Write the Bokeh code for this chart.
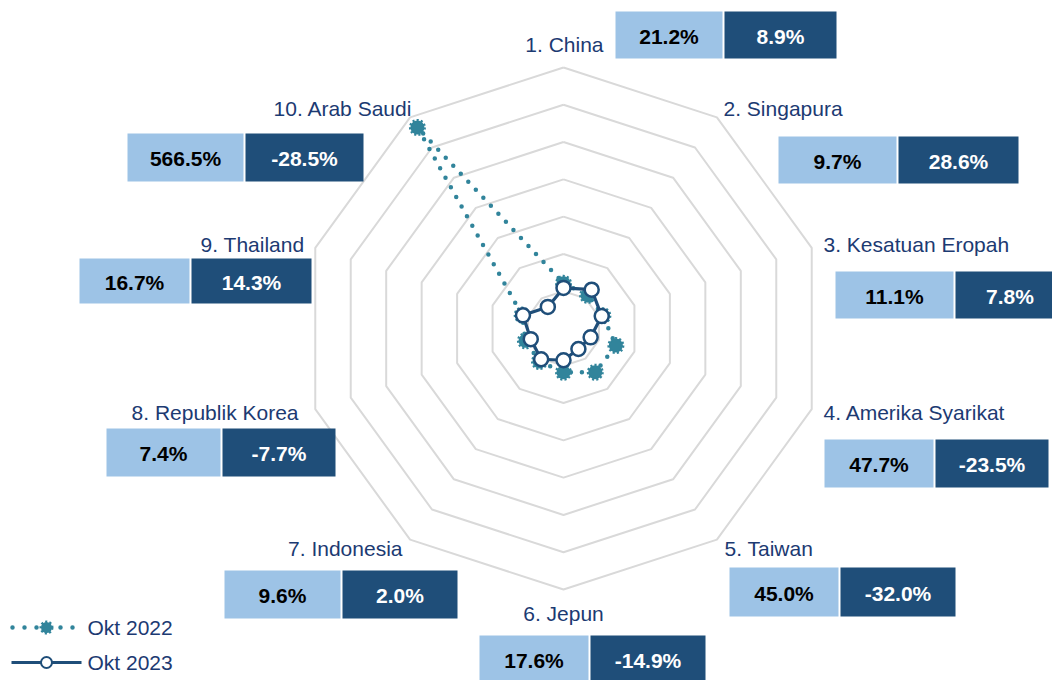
import math
from bokeh.plotting import figure
from bokeh.models import Range1d
from bokeh.embed import file_html
from bokeh.resources import INLINE
from bokeh.core.properties import value

# ---------------- data ----------------
categories = ["1. China", "2. Singapura", "3. Kesatuan Eropah", "4. Amerika Syarikat",
              "5. Taiwan", "6. Jepun", "7. Indonesia", "8. Republik Korea",
              "9. Thailand", "10. Arab Saudi"]
okt2022 = [21.2, 9.7, 11.1, 47.7, 45.0, 17.6, 9.6, 7.4, 16.7, 566.5]
okt2023 = [8.9, 28.6, 7.8, -23.5, -32.0, -14.9, 2.0, -7.7, 14.3, -28.5]
series_names = ["Okt 2022", "Okt 2023"]
axis_min, axis_max, axis_step = -100, 600, 100

# ---------------- layout (page pixels) ----------------
W, H, OFF = 1052, 680, 0
CX, CY, R = 563, 328, 261
FONT = value("Liberation Sans")
NAVY = "#1C3A72"
TEAL = "#31849B"
DARK = "#1F4E79"
LIGHT = "#9DC3E6"
GRID = "#D9D9D9"
FS = "21px"

# label anchor: (x, y, align)
label_pos = [(603, 44, "right"), (723, 108, "left"), (823, 244, "left"), (823, 412, "left"),
             (724, 548, "left"), (563, 613, "center"), (402, 548, "right"), (298, 412, "right"),
             (304, 244, "right"), (412, 108, "right")]
# boxes: (light_left, split, dark_right, top, bottom)
box_pos = [(615, 722, 836, 11, 58), (778, 896, 1018, 136, 183), (835, 953, 1064, 271, 318),
           (824, 933, 1048, 439, 487), (729, 838, 955, 567, 616), (479, 588, 705, 635, 683),
           (224, 340, 457, 570, 618), (106, 220, 335, 428, 476), (79, 189, 311, 258, 303),
           (127, 243, 363, 133, 181)]

p = figure(width=W, height=H, x_range=Range1d(OFF, OFF + W), y_range=Range1d(OFF + H, OFF),
           output_backend="svg", toolbar_location=None, min_border=0,
           x_axis_location=None, y_axis_location=None)
p.grid.visible = False
p.outline_line_color = None
p.background_fill_color = "white"

n = len(categories)


def to_xy(v, i):
    r = (v - axis_min) / (axis_max - axis_min) * R
    th = 2 * math.pi * i / n
    return CX + r * math.sin(th), CY - r * math.cos(th)


# rings
ring_vals = list(range(axis_min + axis_step, axis_max + 1, axis_step))
xs_r, ys_r = [], []
for rv in ring_vals:
    pts = [to_xy(rv, i) for i in range(n)] + [to_xy(rv, 0)]
    xs_r.append([q[0] for q in pts])
    ys_r.append([q[1] for q in pts])
p.multi_line(xs_r, ys_r, line_color=GRID, line_width=2)


def closed(vals):
    pts = [to_xy(v, i) for i, v in enumerate(vals)]
    pts.append(pts[0])
    return [q[0] for q in pts], [q[1] for q in pts]


x22, y22 = closed(okt2022)
x23, y23 = closed(okt2023)
p.line(x22, y22, line_color=TEAL, line_width=4.5, line_dash="0 11", line_cap="round")
p.scatter(x22[:-1], y22[:-1], marker="circle", size=14, fill_color=TEAL,
          line_color=TEAL, line_width=3, line_dash=value("2 1.5"))
p.line(x23, y23, line_color=DARK, line_width=3.2)
p.scatter(x23[:-1], y23[:-1], marker="circle", size=14, fill_color="white",
          line_color=DARK, line_width=2.5)

# category labels
for (lx, ly, al), name in zip(label_pos, categories):
    p.text([lx], [ly], text=[name], text_font=FONT, text_font_size=FS,
           text_color=NAVY, text_align=al, text_baseline="middle")

# value boxes
ll, lr, dl, dr, tp, bt = [], [], [], [], [], []
for (a, s, b, t, btm) in box_pos:
    ll.append(a); lr.append(s); dl.append(s + 2); dr.append(b); tp.append(t); bt.append(btm)
p.quad(left=ll, right=lr, top=tp, bottom=bt, fill_color=LIGHT, line_color=None)
p.quad(left=dl, right=dr, top=tp, bottom=bt, fill_color=DARK, line_color=None)
lx_c = [(a + b) / 2 for a, b in zip(ll, lr)]
dx_c = [(a + b) / 2 for a, b in zip(dl, dr)]
yc = [(a + b) / 2 + 1 for a, b in zip(tp, bt)]
p.text(lx_c, yc, text=[f"{v:.1f}%" for v in okt2022], text_font=FONT, text_font_size=FS,
       text_font_style="bold", text_color="black", text_align="center", text_baseline="middle")
p.text(dx_c, yc, text=[f"{v:.1f}%" for v in okt2023], text_font=FONT, text_font_size=FS,
       text_font_style="bold", text_color="white", text_align="center", text_baseline="middle")

# legend (manual)
p.line([12, 75], [627, 627], line_color=TEAL, line_width=4.5, line_dash="0 12", line_cap="round")
p.scatter([46], [627], marker="circle", size=11, fill_color=TEAL, line_color=TEAL,
          line_width=3, line_dash=value("2 1.5"))
p.line([11, 81], [662, 662], line_color=DARK, line_width=3)
p.scatter([46], [662], marker="circle", size=11, fill_color="white", line_color=DARK, line_width=2)
p.text([87, 87], [627, 662], text=series_names, text_font=FONT, text_font_size=FS,
       text_color=NAVY, text_align="left", text_baseline="middle")

open("out.html", "w").write(file_html(p, INLINE))
